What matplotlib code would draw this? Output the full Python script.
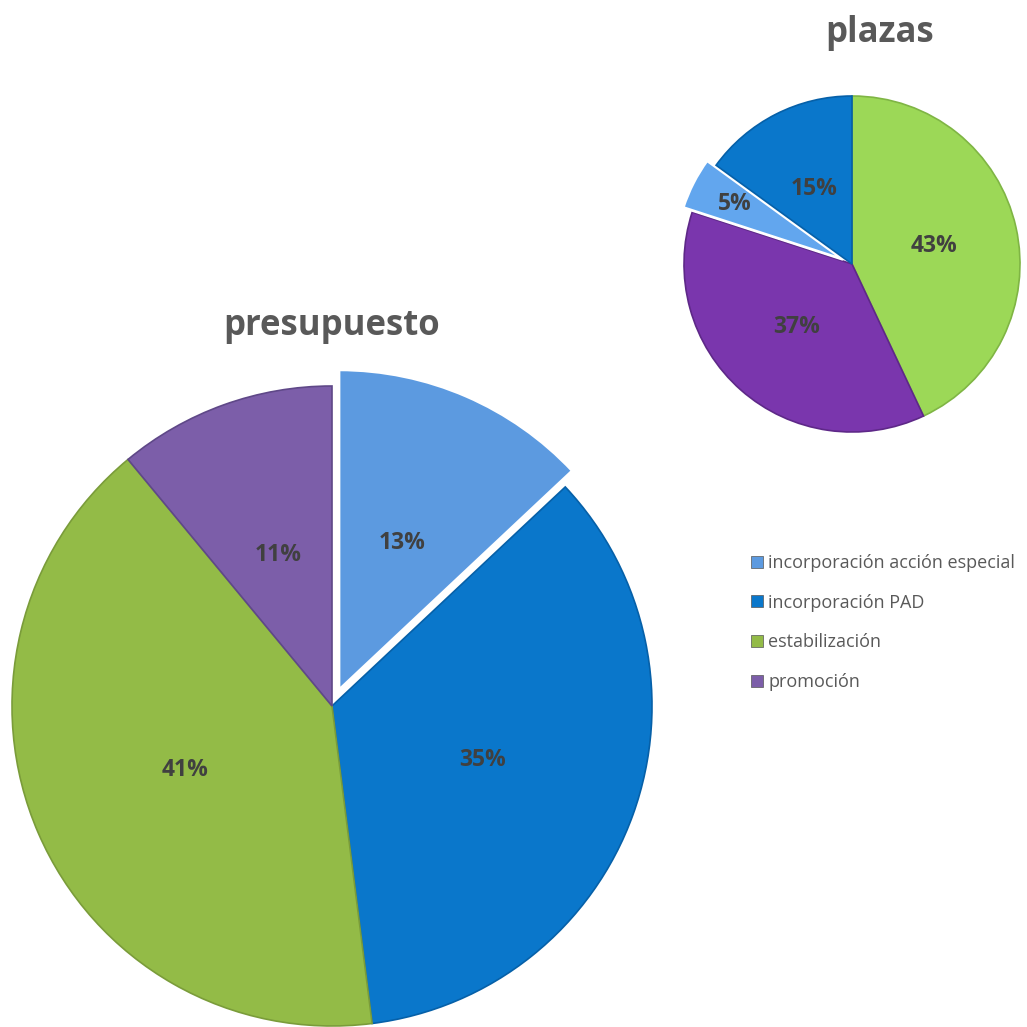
import numpy as np
import matplotlib
matplotlib.use('Agg')
from matplotlib import pyplot as plt
from matplotlib.patches import Patch

plt.rcParams['font.family'] = ['Open Sans', 'DejaVu Sans']

# Data
categories = ['incorporación acción especial', 'incorporación PAD',
              'estabilización', 'promoción']
presupuesto = [13, 35, 41, 11]          # clockwise from 12 o'clock
plazas = [5, 15, 43, 37]                # same category order
plazas_order = [2, 3, 0, 1]             # clockwise drawing order in the small pie

colors_big = ['#5c9ae0', '#0a77cb', '#93bb47', '#7c5ea9']
colors_small = ['#62a6ee', '#0a77cb', '#9cd857', '#7a36ad']
edges_big = ['#4a80c0', '#0660a8', '#7a9c3a', '#5f4888']
edges_small = ['#4a88cc', '#0660a8', '#7fb544', '#5e2888']
legend_colors = ['#5c9ae0', '#0a77cb', '#93bb47', '#7c5ea9']

W = 1027
fig = plt.figure(figsize=[10.27, 10.27], dpi=100)


def pie_axes(cx, cy, r):
    size = 2.2 * r
    ax = fig.add_axes([(cx - size / 2) / W, (W - cy - size / 2) / W, size / W, size / W])
    ax.set_xlim(-1.1, 1.1)
    ax.set_ylim(-1.1, 1.1)
    ax.set_aspect('equal')
    ax.axis('off')
    return ax


label_style = dict(fontsize=16.5, fontweight='bold', color='#404040')

# big pie: presupuesto
ax1 = pie_axes(332, 706, 320)
wedges, texts, autotexts = ax1.pie(
    presupuesto, colors=colors_big, startangle=90, counterclock=False,
    explode=[0.055, 0, 0, 0], autopct='%1.0f%%', pctdistance=0.5, radius=1,
    wedgeprops=dict(linewidth=1.2), textprops=label_style, frame=True)
for w, ec in zip(wedges, edges_big):
    w.set_edgecolor(ec)
wedges[0].set_edgecolor('white')
wedges[0].set_linewidth(2.0)
ax1.set_xlim(-1.1, 1.1)
ax1.set_ylim(-1.1, 1.1)
ax1.axis('off')

# small pie: plazas
ax2 = pie_axes(852, 264, 168)
vals = [plazas[i] for i in plazas_order]
cols = [colors_small[i] for i in plazas_order]
ecs = [edges_small[i] for i in plazas_order]
expl = [0.06 if i == 0 else 0 for i in plazas_order]
wedges2, texts2, autotexts2 = ax2.pie(
    vals, colors=cols, startangle=90, counterclock=False, explode=expl,
    autopct='%1.0f%%', pctdistance=0.5, radius=1,
    wedgeprops=dict(linewidth=1.2), textprops=label_style, frame=True)
for w, ec in zip(wedges2, ecs):
    w.set_edgecolor(ec)
k = plazas_order.index(0)
wedges2[k].set_edgecolor('white')
wedges2[k].set_linewidth(2.0)
# push the small 5% label further out
x, y = autotexts2[k].get_position()
autotexts2[k].set_position((x * 1.4, y * 1.4))
ax2.set_xlim(-1.1, 1.1)
ax2.set_ylim(-1.1, 1.1)
ax2.axis('off')

# titles
fig.text(332 / W, 1 - 326 / W, 'presupuesto', ha='center', va='center',
         fontsize=25, fontweight='bold', color='#595959')
fig.text(880 / W, 1 - 33 / W, 'plazas', ha='center', va='center',
         fontsize=25, fontweight='bold', color='#595959')

# legend
handles = [Patch(facecolor=c, edgecolor='#555555', linewidth=0.5) for c in legend_colors]
fig.legend(handles, categories, loc='upper left', bbox_to_anchor=(742 / W, 1 - 545 / W),
           frameon=False, fontsize=13.0, labelcolor='#595959', handlelength=0.65,
           handleheight=0.65, handletextpad=0.3, labelspacing=1.2, borderpad=0)

fig.savefig('out.png', dpi=100)
